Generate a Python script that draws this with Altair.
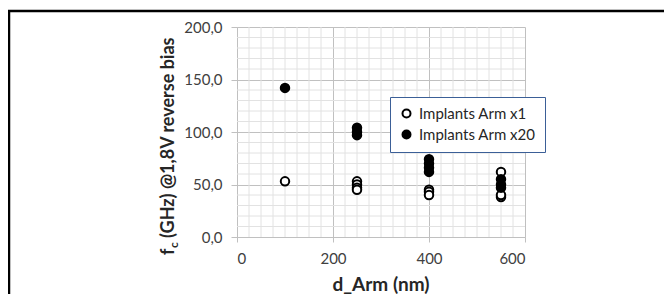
import altair as alt
import pandas as pd

# ---- data ----
series_names = ["Implants Arm x1", "Implants Arm x20"]
d_arm_x1 = [100, 250, 250, 250, 250, 400, 400, 400, 550, 550, 550]
fc_x1 = [53, 53, 50, 47, 45, 45, 43, 40, 62, 38, 40]
d_arm_x20 = [100, 250, 250, 250, 400, 400, 400, 400, 550, 550, 550]
fc_x20 = [142, 104, 100, 97, 74, 70, 66, 62, 55, 50, 47]
x_ticks = [0, 200, 400, 600]
y_ticks = [0, 50, 100, 150, 200]
x_minor = [v for v in range(0, 601, 25) if v % 200 != 0]
y_minor = [v for v in range(0, 201, 10) if v % 50 != 0]

rows = []
for i, (d, f) in enumerate(zip(d_arm_x1, fc_x1)):
    rows.append({"d": d, "f": f, "s": series_names[0], "o": i})
for i, (d, f) in enumerate(zip(d_arm_x20, fc_x20)):
    rows.append({"d": d, "f": f, "s": series_names[1], "o": 100 + i})
df = pd.DataFrame(rows)

W, H = 288, 210
FONT = "Lato"
LBL = "#404040"
TTL = "#262626"
GRID = "#c0c0c0"
MINOR = "#e2e2e2"

xs = alt.Scale(domain=[0, 600], nice=False, zero=False)
ys = alt.Scale(domain=[0, 200], nice=False, zero=False)

xaxis = alt.Axis(values=x_ticks, grid=True, gridColor=GRID, domainColor=GRID,
                 tickColor=GRID, tickSize=5, labelPadding=9, labelFont=FONT,
                 labelFontSize=15, labelColor=LBL, title=None)
yaxis = alt.Axis(values=y_ticks, grid=True, gridColor=GRID, domainColor=GRID,
                 tickColor=GRID, tickSize=6, labelPadding=9, labelFont=FONT,
                 labelFontSize=15, labelColor=LBL, title=None,
                 labelExpr="replace(format(datum.value, '.1f'), '.', ',')")

vgrid = alt.Chart(pd.DataFrame({"d": x_minor})).mark_rule(
    color=MINOR, strokeWidth=1).encode(x=alt.X("d:Q", scale=xs, axis=xaxis))
hgrid = alt.Chart(pd.DataFrame({"f": y_minor})).mark_rule(
    color=MINOR, strokeWidth=1).encode(y=alt.Y("f:Q", scale=ys, axis=yaxis))

pts = alt.Chart(df).mark_point(
    shape="circle", filled=True, stroke="black", strokeWidth=2, size=72, opacity=1
).encode(
    x=alt.X("d:Q", scale=xs, axis=xaxis),
    y=alt.Y("f:Q", scale=ys, axis=yaxis),
    fill=alt.Fill("s:N", scale=alt.Scale(domain=series_names, range=["white", "black"]),
                  legend=alt.Legend(orient="none", legendX=153, legendY=70,
                                    title=None, strokeColor="#3b5f97", fillColor="white",
                                    padding=9, labelFont=FONT, labelFontSize=15,
                                    labelColor=TTL, symbolStrokeColor="black",
                                    symbolStrokeWidth=2, symbolSize=64, symbolType="circle",
                                    rowPadding=4, labelOffset=5, cornerRadius=0)),
    order=alt.Order("o:Q"),
)

def txt(s, x, y, size, angle=0, align="left", bold=True):
    return alt.Chart(pd.DataFrame({"a": [0]})).mark_text(
        text=s, font=FONT, fontSize=size, fontWeight="bold" if bold else "normal",
        color=TTL, align=align, baseline="alphabetic", angle=angle
    ).encode(x=alt.value(x), y=alt.value(y))

ytitle_f = txt("f", -63, 228, 18, angle=270)
ytitle_c = txt("c", -59, 221, 12, angle=270)
ytitle_r = txt("(GHz) @1,8V reverse bias", -63, 211, 18, angle=270)
xtitle = txt("d_Arm (nm)", W / 2, 264, 19, align="center")

vframe = alt.Chart(pd.DataFrame({"a": [0]})).mark_rule(color="black", strokeWidth=2.5).encode(
    x=alt.value(-228), y=alt.value(-17), y2=alt.value(280))
hframe = alt.Chart(pd.DataFrame({"a": [0]})).mark_rule(color="black", strokeWidth=2.5).encode(
    x=alt.value(-230), x2=alt.value(430), y=alt.value(-16))

chart = alt.layer(vgrid, hgrid, pts, ytitle_f, ytitle_c, ytitle_r, xtitle, vframe, hframe).properties(
    width=W, height=H,
    autosize=alt.AutoSizeParams(type="none"),
    padding={"left": 229, "top": 19, "right": 139, "bottom": 57},
).configure_view(strokeWidth=0)

chart.save("out.html", embed_options={"renderer": "svg", "actions": False})
